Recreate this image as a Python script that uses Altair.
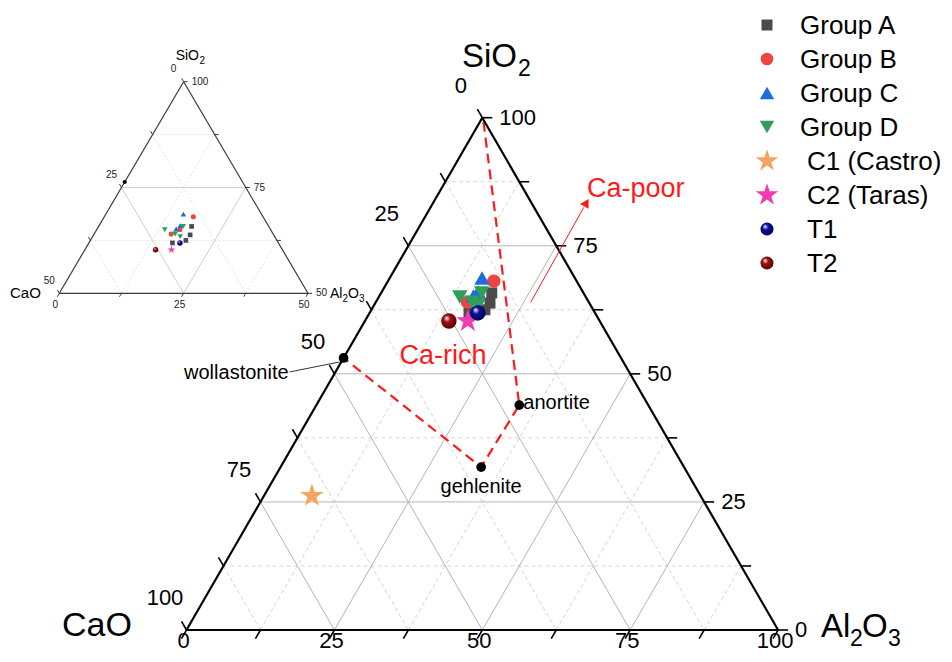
import math
import altair as alt
import pandas as pd

# ---------------- data (wt%) ----------------
# columns: SiO2, Al2O3, CaO
grpA_si = [65.8, 63.8, 62.5, 61.9]
grpA_al = [18.7, 19.4, 19.2, 16.8]
grpA_ca = [15.5, 16.8, 18.3, 21.3]

grpB_si = [68.1, 65.1, 64.0]
grpB_al = [17.9, 16.7, 15.5]
grpB_ca = [14.0, 18.2, 20.5]

grpC_si = [68.7, 66.0, 65.2]
grpC_al = [15.6, 16.3, 15.9]
grpC_ca = [15.7, 17.7, 18.9]

grpD_si = [65.0, 65.8, 64.0, 63.4]
grpD_al = [13.7, 17.0, 16.3, 17.6]
grpD_ca = [21.3, 17.2, 19.7, 19.0]

c1_si, c1_al, c1_ca = [26.2], [8.1], [65.7]
c2_si, c2_al, c2_ca = [60.3], [17.4], [22.3]
t1_si, t1_al, t1_ca = [61.9], [18.3], [19.8]
t2_si, t2_al, t2_ca = [60.3], [14.2], [25.5]

legend_names = ["Group A", "Group B", "Group C", "Group D",
                "C1 (Castro)", "C2 (Taras)", "T1", "T2"]

# phase boundary (dashed red): top, anortite, gehlenite, wollastonite
bound_si = [99.2, 43.9, 31.8, 53.1]
bound_al = [0.6, 34.3, 33.9, 0.0]
minerals = ["anortite", "gehlenite", "wollastonite"]
mineral_si = [43.9, 31.8, 53.1]
mineral_al = [34.3, 33.9, 0.0]

inset_marker_si = [76.3]
inset_marker_al = [0.0]

main_ticks = [0, 12.5, 25, 37.5, 50, 62.5, 75, 87.5, 100]
main_labels = [0, 25, 50, 75, 100]
inset_ticks = [0, 12.5, 25, 37.5, 50]
inset_labels = [0, 25, 50]

# ---------------- layout ----------------
FONT = "Liberation Sans"
MAIN = dict(x0=186.5, y0=630.0, W=591.6, H=512.3, smin=0)
INSET = dict(x0=-65.05, y0=504.9, W=497.4, H=423.2, smin=50)
C30, S60 = 0.5, math.sqrt(3) / 2
STAR = ("M0,-1L0.2245,-0.309L0.951,-0.309L0.363,0.118L0.588,0.809L0,0.382"
        "L-0.588,0.809L-0.363,0.118L-0.951,-0.309L-0.2245,-0.309Z")


def xy(T, si, al):
    return T["x0"] + T["W"] * (al + si / 2) / 100.0, T["y0"] - T["H"] * si / 100.0


def seg(T, p, q):
    x1, y1 = xy(T, *p)
    x2, y2 = xy(T, *q)
    return dict(x=x1, y=y1, x2=x2, y2=y2)


def grid(T, lv_si, lv_al, lv_ca):
    sm = T["smin"]
    out = []
    for k in lv_si:
        out.append(seg(T, (k, 0), (k, 100 - k)))
    for k in lv_al:
        out.append(seg(T, (sm, k), (100 - k, k)))
    for k in lv_ca:
        out.append(seg(T, (100 - k, 0), (sm, 100 - sm - k)))
    return pd.DataFrame(out)


def edges(T):
    sm = T["smin"]
    return pd.DataFrame([seg(T, (sm, 0), (sm, 100 - sm)),
                         seg(T, (sm, 100 - sm), (100, 0)),
                         seg(T, (100, 0), (sm, 0))])


def ticks(T, vals, ln):
    sm = T["smin"]
    out = []
    for v in vals:
        x, y = xy(T, sm, v)
        out.append(dict(x=x, y=y, x2=x - C30 * ln, y2=y + S60 * ln))
        x, y = xy(T, sm + v, 100 - sm - v)
        out.append(dict(x=x, y=y, x2=x + ln, y2=y))
        x, y = xy(T, 100 - v, 0)
        out.append(dict(x=x, y=y, x2=x - C30 * ln, y2=y - S60 * ln))
    return pd.DataFrame(out)


def tick_labels(T, vals, off_b, off_r, off_l):
    sm = T["smin"]
    bottom, right, left = [], [], []
    for v in vals:
        x, y = xy(T, sm, v)
        bottom.append(dict(x=x + off_b[0], y=y + off_b[1], t=str(v)))
        x, y = xy(T, sm + v, 100 - sm - v)
        right.append(dict(x=x + off_r[0], y=y + off_r[1], t=str(sm + v)))
        x, y = xy(T, 100 - v, 0)
        left.append(dict(x=x + off_l[0], y=y + off_l[1], t=str(v)))
    return pd.DataFrame(bottom), pd.DataFrame(right), pd.DataFrame(left)


X = alt.X("x:Q", scale=alt.Scale(domain=[8, 944], nice=False, zero=False), axis=None)
Y = alt.Y("y:Q", scale=alt.Scale(domain=[8, 654], nice=False, zero=False, reverse=True), axis=None)


def rules(df, **mk):
    return alt.Chart(df).mark_rule(**mk).encode(x=X, y=Y, x2="x2:Q", y2="y2:Q")


def texts(df, size, color="black", align="center", baseline="middle"):
    return alt.Chart(df).mark_text(fontSize=size, color=color, align=align,
                                   baseline=baseline, font=FONT).encode(x=X, y=Y, text="t:N")


def pts(T, si, al):
    rows = [dict(zip(("x", "y"), xy(T, s, a))) for s, a in zip(si, al) if s >= T["smin"]]
    return pd.DataFrame(rows, columns=["x", "y"])


def sphere(col, dark):
    return {"gradient": "radial", "x1": 0.35, "y1": 0.3, "r1": 0.0,
            "x2": 0.45, "y2": 0.45, "r2": 0.62,
            "stops": [{"offset": 0.0, "color": "#ffffff"},
                      {"offset": 0.35, "color": col},
                      {"offset": 1.0, "color": dark}]}


styles = [
    dict(shape="square", color="#4b4b4b", si=grpA_si, al=grpA_al, s=(120, 22, 120)),
    dict(shape="circle", color="#f04444", si=grpB_si, al=grpB_al, s=(180, 26, 160)),
    dict(shape="triangle-up", color="#1f6ed8", si=grpC_si, al=grpC_al, s=(240, 32, 210)),
    dict(shape="triangle-down", color="#2e9e5a", si=grpD_si, al=grpD_al, s=(240, 32, 210)),
    dict(shape=STAR, color="#f6a464", si=c1_si, al=c1_al, s=(600, 70, 560)),
    dict(shape=STAR, color="#f03cb0", si=c2_si, al=c2_al, s=(600, 70, 560)),
    dict(shape="circle", color=None, grad=("#1010a0", "#000050"), si=t1_si, al=t1_al, s=(240, 30, 170)),
    dict(shape="circle", color=None, grad=("#a01010", "#500000"), si=t2_si, al=t2_al, s=(240, 30, 170)),
]


def point_layer(df, st, size):
    if st["color"] is None:
        fill = sphere(*st["grad"])
        mk = dict(shape=st["shape"], size=size, filled=True, fill=fill, opacity=1, strokeWidth=0)
    else:
        mk = dict(shape=st["shape"], size=size, filled=True, color=st["color"], opacity=1)
    return alt.Chart(df).mark_point(**mk).encode(x=X, y=Y)


layers = []

# ---------- inset ----------
layers.append(rules(grid(INSET, [62.5, 87.5], [12.5, 37.5], [12.5, 37.5]),
                    color="#dcdcdc", strokeWidth=0.8, strokeDash=[2, 2]))
layers.append(rules(grid(INSET, [75], [25], [25]), color="#c8c8c8", strokeWidth=0.9))
layers.append(rules(edges(INSET), color="#3a3a3a", strokeWidth=1.2))
layers.append(rules(ticks(INSET, inset_ticks, 4), color="#3a3a3a", strokeWidth=1))
ib, ir, il = tick_labels(INSET, inset_labels, (-4, 12), (8, 0), (-10, -12.5))
layers += [texts(ib, 10, "#222"), texts(ir, 10, "#222", align="left"), texts(il, 10, "#222")]
layers.append(alt.Chart(pts(INSET, inset_marker_si, inset_marker_al))
              .mark_point(shape="circle", size=18, filled=True, color="black", opacity=1)
              .encode(x=X, y=Y))
for st in styles:
    d = pts(INSET, st["si"], st["al"])
    if len(d):
        layers.append(point_layer(d, st, st["s"][1]))

# ---------- main ----------
layers.append(rules(grid(MAIN, [12.5, 37.5, 62.5, 87.5], [12.5, 37.5, 62.5, 87.5], [12.5, 37.5, 62.5, 87.5]),
                    color="#d4d4d4", strokeWidth=1, strokeDash=[4, 3]))
layers.append(rules(grid(MAIN, [25, 50, 75], [25, 50, 75], [25, 50, 75]), color="#b4b4b4", strokeWidth=1))

bdf = pts(MAIN, bound_si, bound_al)
bdf["o"] = range(len(bdf))
layers.append(alt.Chart(bdf).mark_line(color="#ff1a1a", strokeWidth=2.2, strokeDash=[10, 6])
              .encode(x=X, y=Y, order="o:Q"))

layers.append(rules(edges(MAIN), color="black", strokeWidth=2.2))
layers.append(rules(ticks(MAIN, main_ticks, 10), color="black", strokeWidth=1.6))
mb, mr, ml = tick_labels(MAIN, main_labels, (-3, 11), (17, 0), (-21.5, -32))
layers += [texts(mb, 22), texts(mr, 22, align="left"), texts(ml, 22)]

mdf = pts(MAIN, mineral_si, mineral_al)
layers.append(alt.Chart(mdf).mark_point(shape="circle", size=95, filled=True, color="black", opacity=1)
              .encode(x=X, y=Y))
lab_off = {"anortite": (4, -2, "left"), "gehlenite": (0, 20, "center"), "wollastonite": (-55, 15, "right")}
for i, name in enumerate(minerals):
    dx, dy, al = lab_off[name]
    d = pd.DataFrame([dict(x=mdf.x[i] + dx, y=mdf.y[i] + dy, t=name)])
    layers.append(texts(d, 20, align=al))
wx, wy = mdf.x[2], mdf.y[2]
layers.append(rules(pd.DataFrame([dict(x=wx - 54, y=wy + 14, x2=wx - 4, y2=wy + 4)]),
                    color="#333", strokeWidth=1))

ax1, ay1 = xy(MAIN, 64.0, 26.2)
ax2, ay2 = xy(MAIN, 82.5, 25.9)
layers.append(rules(pd.DataFrame([dict(x=ax1, y=ay1, x2=ax2, y2=ay2)]), color="#ff1a1a", strokeWidth=1))
hx, hy = xy(MAIN, 83.4, 25.9)
layers.append(alt.Chart(pd.DataFrame([dict(x=hx, y=hy)]))
              .mark_point(shape="triangle-up", size=95, filled=True, color="#ff1a1a", opacity=1, angle=30)
              .encode(x=X, y=Y))
layers.append(texts(pd.DataFrame([dict(x=587, y=189, t="Ca-poor")]), 27, color="#ff1a1a", align="left"))
layers.append(texts(pd.DataFrame([dict(x=443, y=356, t="Ca-rich")]), 27, color="#ff1a1a"))

for st in styles:
    layers.append(point_layer(pts(MAIN, st["si"], st["al"]), st, st["s"][0]))

# ---------- titles ----------
title_rows = [
    dict(x=517, y=67, t="SiO", fs=33, a="right"), dict(x=518, y=76, t="2", fs=23, a="left"),
    dict(x=62, y=636, t="CaO", fs=34, a="left"),
    dict(x=821, y=637, t="Al", fs=33, a="left"), dict(x=850, y=646, t="2", fs=23, a="left"),
    dict(x=862, y=637, t="O", fs=33, a="left"), dict(x=888, y=646, t="3", fs=23, a="left"),
    dict(x=199, y=60, t="SiO", fs=14, a="right"), dict(x=199.5, y=64, t="2", fs=10, a="left"),
    dict(x=10, y=298, t="CaO", fs=15, a="left"),
    dict(x=330, y=298, t="Al", fs=14, a="left"), dict(x=342.5, y=302, t="2", fs=10, a="left"),
    dict(x=348, y=298, t="O", fs=14, a="left"), dict(x=359, y=302, t="3", fs=10, a="left"),
]
tdf = pd.DataFrame(title_rows)
for a in ["left", "right"]:
    layers.append(alt.Chart(tdf[tdf.a == a]).mark_text(align=a, baseline="alphabetic", font=FONT, color="black")
                  .encode(x=X, y=Y, text="t:N", size=alt.Size("fs:Q", scale=None)))

# ---------- legend ----------
for i, (name, st) in enumerate(zip(legend_names, styles)):
    yy = 25 + i * 34.0
    layers.append(point_layer(pd.DataFrame([dict(x=767, y=yy)]), st, st["s"][2]))
    lx = 800 if i < 4 else 807
    layers.append(texts(pd.DataFrame([dict(x=lx, y=yy + 1, t=name)]), 26, align="left"))

chart = alt.layer(*layers).properties(
    width=936, height=646, padding=0, autosize=alt.AutoSizeParams(type="none"),
    background="white"
).configure_view(stroke=None)

chart.save("out.html", embed_options={"renderer": "svg", "actions": False})
